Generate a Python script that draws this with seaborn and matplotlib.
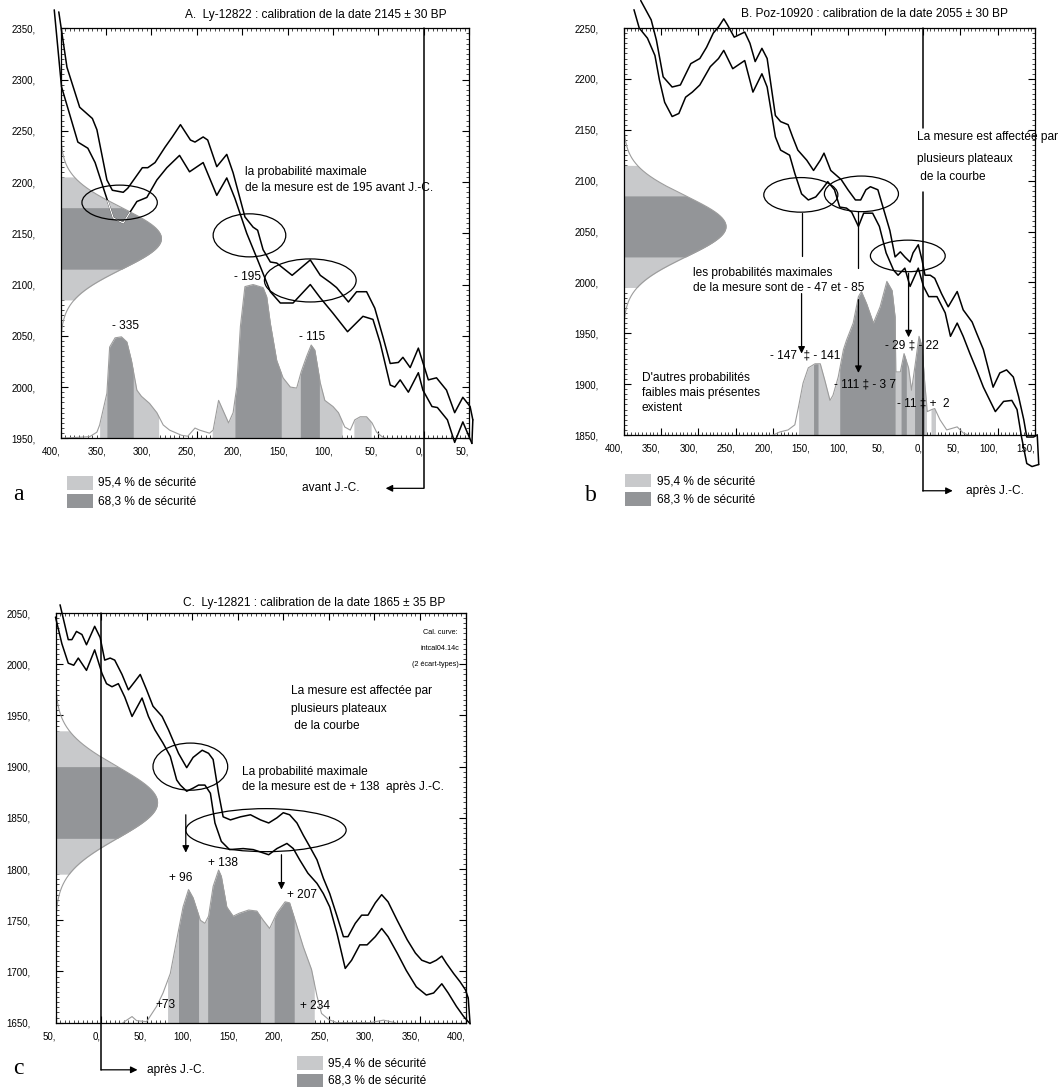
import numpy as np
import matplotlib
matplotlib.use("Agg")
import matplotlib.pyplot as plt
from matplotlib.patches import Ellipse, Rectangle
from matplotlib.ticker import MultipleLocator, FuncFormatter
import seaborn as sns

sns.set_theme(style="white")
FONTS = ['Liberation Sans Narrow', 'Liberation Sans', 'DejaVu Sans']
plt.rcParams['font.family'] = FONTS

W, H = 1060, 1088
LIGHT = '#c8c9cb'
DARK = '#939598'
THIN = '#9c9c9c'
FS = 8.6

# ---------------- A. Ly-12822 : 2145 +/- 30 BP ----------------
a_date, a_sigma = 2145, 30
a_upper_x = [-402, -393, -379, -365, -360, -349, -343, -331, -326, -310, -304, -296, -285, -277, -268,
             -257, -252, -243, -238, -228, -217, -210, -197, -188, -183, -177, -169, -162, -145, -125,
             -114, -103, -96, -83, -74, -63, -54, -45, -37, -28, -23, -15, -6, 5, 14, 25, 34, 43, 51, 54]
a_upper_y = [2366, 2312, 2273, 2262, 2251, 2202, 2192, 2190, 2194, 2214, 2214, 2219, 2234, 2244, 2256,
             2241, 2239, 2244, 2241, 2215, 2227, 2209, 2166, 2156, 2153, 2134, 2122, 2121, 2109, 2124,
             2109, 2102, 2097, 2083, 2093, 2093, 2077, 2049, 2023, 2024, 2029, 2019, 2038, 2007, 2009,
             1997, 1975, 1990, 1981, 1968]
a_lower_x = [-407, -399, -381, -370, -362, -351, -342, -331, -324, -316, -305, -294, -283, -269, -258,
             -243, -228, -217, -208, -195, -189, -183, -169, -158, -144, -125, -114, -100, -84, -67,
             -56, -48, -37, -32, -26, -17, -6, -1, 9, 15, 26, 34, 43, 53]
a_lower_y = [2368, 2293, 2239, 2233, 2219, 2189, 2165, 2160, 2170, 2181, 2185, 2202, 2214, 2226, 2210,
             2219, 2187, 2204, 2184, 2150, 2137, 2124, 2093, 2082, 2082, 2100, 2087, 2072, 2054, 2069,
             2066, 2043, 2002, 2000, 2007, 1995, 2014, 1997, 1981, 1980, 1968, 1946, 1966, 1945]
a_prob_x = [-400, -368, -360, -357, -349, -346, -340, -333, -327, -322, -316, -311, -302, -294, -287,
            -280, -267, -260, -252, -247, -236, -232, -226, -223, -215, -210, -206, -202, -197, -188,
            -177, -173, -169, -162, -155, -147, -140, -135, -129, -124, -120, -114, -109, -100, -94,
            -87, -81, -76, -70, -63, -57, -52, -46, -42]
a_prob_h = [0, 1.6, 6, 13, 44, 89, 98, 99, 94, 76, 47, 41, 34, 25, 13,
            8, 3, 2, 10, 8, 5, 8, 37, 31, 15, 25, 50, 109, 148, 150,
            147, 138, 112, 76, 59, 50, 49, 65, 80, 91, 86, 54, 37, 31, 25,
            11, 8, 18, 21, 21, 15, 6, 1.6, 0]
a_band95 = [(-357, -292), (-233, -90), (-77, -58)]
a_band68 = [(-349, -320), (-208, -157), (-136, -115)]

# ---------------- B. Poz-10920 : 2055 +/- 30 BP ----------------
b_date, b_sigma = 2055, 30
b_upper_x = [-377, -363, -356, -347, -335, -324, -310, -298, -289, -280, -273, -266, -261, -252, -238,
             -231, -224, -215, -208, -197, -190, -180, -174, -167, -155, -146, -137, -132, -123, -109,
             -100, -90, -83, -76, -70, -60, -50, -44, -37, -30, -24, -17, -13, -6, -1, 3, 10, 16, 25, 34,
             46, 54, 66, 72, 81, 94, 103, 112, 121, 128, 135, 139, 148, 153]
b_upper_y = [2277, 2258, 2238, 2202, 2192, 2194, 2215, 2220, 2231, 2245, 2251, 2259, 2253, 2241, 2246,
             2235, 2217, 2230, 2220, 2164, 2158, 2155, 2143, 2130, 2120, 2110, 2120, 2127, 2110, 2101,
             2091, 2081, 2081, 2091, 2094, 2091, 2066, 2051, 2025, 2030, 2025, 2020, 2029, 2037, 2022,
             2007, 2007, 2004, 1989, 1976, 1991, 1973, 1961, 1950, 1934, 1897, 1911, 1914, 1907, 1888,
             1865, 1848, 1848, 1850]
b_lower_x = [-386, -379, -368, -358, -352, -345, -335, -326, -317, -308, -298, -284, -273, -266, -254,
             -238, -227, -215, -208, -197, -190, -178, -171, -162, -153, -143, -134, -127, -118, -111,
             -102, -95, -86, -79, -67, -58, -49, -39, -33, -24, -17, -6, 1, 8, 19, 30, 37, 46, 54, 63,
             72, 81, 97, 108, 119, 126, 132, 139, 146, 155]
b_lower_y = [2268, 2250, 2240, 2223, 2199, 2177, 2163, 2166, 2182, 2187, 2194, 2212, 2220, 2228, 2210,
             2218, 2187, 2205, 2192, 2143, 2130, 2125, 2107, 2087, 2081, 2084, 2092, 2099, 2091, 2074,
             2073, 2069, 2055, 2068, 2068, 2055, 2029, 2012, 2007, 2014, 1996, 2014, 1996, 1986, 1986,
             1970, 1947, 1960, 1947, 1930, 1914, 1897, 1873, 1883, 1884, 1875, 1848, 1822, 1819, 1821]
b_prob_x = [-200, -191, -180, -171, -166, -160, -153, -144, -137, -131, -124, -120, -113, -106, -102,
            -93, -86, -82, -75, -66, -57, -48, -41, -37, -36, -30, -25, -19, -15, -10,
            -5, -1, 2, 6, 12, 16, 23, 32, 46, 54, 61]
b_prob_h = [0, 3, 5, 10, 28, 51, 66, 70, 70, 54, 34, 39, 57, 84, 93,
            110, 136, 141, 129, 110, 126, 151, 142, 116, 62, 62, 80, 66, 44, 70,
            97, 87, 57, 23, 25, 26, 15, 5, 8, 2, 0]
b_band95 = [(-166, 5), (11, 17)]
b_band68 = [(-146, -140), (-111, -37), (-29, -22), (-11, 2)]

# ---------------- C. Ly-12821 : 1865 +/- 35 BP ----------------
c_date, c_sigma = 1865, 35
c_upper_x = [-45, -36, -32, -27, -21, -16, -7, -1, 4, 10, 15, 23, 30, 37, 43, 50, 57, 67, 74, 85,
             94, 101, 111, 118, 123, 129, 134, 142, 153, 164, 175, 184, 193, 200, 207, 215, 222, 229,
             237, 244, 251, 259, 266, 271, 279, 286, 293, 301, 308, 315, 325, 336, 345, 352, 361, 368,
             374, 379, 387, 394, 400, 403]
c_upper_y = [2058, 2024, 2024, 2032, 2029, 2019, 2037, 2026, 2004, 2006, 2004, 1990, 1975, 1983, 1990,
             1975, 1959, 1949, 1936, 1913, 1899, 1909, 1916, 1913, 1907, 1874, 1851, 1848, 1851, 1853,
             1848, 1845, 1850, 1855, 1853, 1845, 1833, 1822, 1809, 1791, 1776, 1754, 1734, 1734, 1747,
             1755, 1755, 1767, 1775, 1768, 1750, 1731, 1718, 1711, 1708, 1711, 1715, 1708, 1698, 1690,
             1682, 1674]
c_lower_x = [-50, -43, -36, -30, -25, -16, -7, 1, 6, 12, 19, 26, 34, 45, 52, 59, 68, 76, 83, 87,
             94, 101, 107, 114, 120, 125, 132, 141, 156, 167, 184, 193, 204, 211, 218, 227, 237, 244,
             251, 259, 268, 275, 284, 292, 301, 308, 315, 325, 335, 346, 357, 365, 374, 381, 390, 398, 405]
c_lower_y = [2046, 2020, 2001, 1999, 2006, 1994, 2014, 1991, 1981, 1978, 1981, 1968, 1949, 1967, 1949,
             1936, 1923, 1910, 1887, 1882, 1876, 1879, 1882, 1882, 1874, 1845, 1827, 1819, 1820, 1819,
             1814, 1820, 1825, 1820, 1809, 1796, 1786, 1776, 1763, 1737, 1703, 1711, 1726, 1726, 1734,
             1742, 1734, 1718, 1701, 1685, 1677, 1679, 1688, 1679, 1666, 1656, 1649]
c_prob_x = [24, 34, 39, 50, 61, 68, 76, 85, 90, 96, 101, 109, 114, 118, 123, 129, 132, 138, 145, 152,
            162, 171, 178, 185, 193, 202, 207, 213, 222, 231, 237, 242, 250, 259, 295, 310, 323]
c_prob_h = [0, 6, 2, 1, 16, 29, 48, 90, 113, 130, 122, 100, 97, 104, 133, 149, 143, 113, 104, 107,
            110, 109, 100, 92, 107, 118, 117, 100, 74, 52, 26, 9, 3, 0, 0, 2.5, 0]
c_band95 = [(73, 234)]
c_band68 = [(85, 107), (117, 175), (190, 212)]

# annotation shapes (data units): ellipses (x, y, w, h), arrows (x, y_from, y_to, head)
a_ellipses = [(-335, 2180, 83, 34), (-192, 2148, 80, 42), (-125, 2104, 101, 42)]
b_ellipses = [(-163, 2086, 99, 34), (-82, 2087, 99, 35), (-20, 2026, 100, 31)]
c_ellipses = [(98, 1900, 82, 46), (181, 1838, 176, 42)]
b_arrows = [(-162, 2068, 2026, False), (-162, 1989, 1930, True), (-86, 2070, 2014, False),
            (-86, 1983, 1911, True), (-19, 2009, 1946, True)]
c_arrows = [(93, 1853, 1816, True), (198, 1814, 1780, True)]

fig = plt.figure(figsize=(W / 100, H / 100), dpi=100)
fig.patch.set_facecolor('white')


def axes_px(left, top, right, bottom):
    return fig.add_axes([left / W, 1 - bottom / H, (right - left) / W, (bottom - top) / H])


def ftxt(px, py, s, size=FS, ha='left', va='center', **kw):
    fig.text(px / W, 1 - py / H, s, fontsize=size, ha=ha, va=va, color='black', **kw)


def legend_px(x, y_light, y_dark, tx):
    for yy, col, lab in ((y_light, LIGHT, "95,4 % de sécurité"), (y_dark, DARK, "68,3 % de sécurité")):
        fig.add_artist(Rectangle((x / W, 1 - (yy + 13.5) / H), 26 / W, 13.5 / H,
                                 transform=fig.transFigure, fc=col, ec='none'))
        ftxt(tx, yy + 7, lab)


def draw_panel(ax, xlim, ylim, up_x, up_y, lo_x, lo_y, p_x, p_h, b95, b68, date, sigma, amp):
    x0, y0 = xlim[0], ylim[0]
    px = np.asarray(p_x, float)
    ph = np.asarray(p_h, float)
    # calibrated probability (bottom)
    for bands, col in ((b95, LIGHT), (b68, DARK)):
        for lo, hi in bands:
            inside = (px > lo) & (px < hi)
            xs = np.concatenate([[lo], px[inside], [hi]])
            ax.fill_between(xs, y0, y0 + np.interp(xs, px, ph), color=col, lw=0, zorder=1)
    sns.lineplot(x=px, y=y0 + ph, ax=ax, color=THIN, lw=0.8, sort=False, estimator=None, zorder=2)
    # measured date on the radiocarbon axis
    clip = None
    for k, col in ((2, LIGHT), (1, DARK)):
        yy = np.linspace(date - k * sigma, date + k * sigma, 200)
        gx = x0 + amp * np.exp(-0.5 * ((yy - date) / sigma) ** 2)
        poly = ax.fill_betweenx(yy, x0, gx, color=col, lw=0, zorder=1)
        if k == 2:
            clip = poly.get_paths()[0]
    yy = np.linspace(date - 3.1 * sigma, date + 3.1 * sigma, 300)
    gx = x0 + amp * np.exp(-0.5 * ((yy - date) / sigma) ** 2)
    sns.lineplot(x=gx, y=yy, ax=ax, color=THIN, lw=0.8, sort=False, estimator=None, zorder=2)
    # calibration curve envelope
    for cx, cy in ((up_x, up_y), (lo_x, lo_y), ([up_x[-1], lo_x[-1]], [up_y[-1], lo_y[-1]])):
        sns.lineplot(x=cx, y=cy, ax=ax, color='black', lw=1.1, sort=False, estimator=None, zorder=3)
        ax.lines[-1].set_clip_on(False)
        sns.lineplot(x=cx, y=cy, ax=ax, color='white', lw=0.9, sort=False, estimator=None, zorder=3.1)
        ax.lines[-1].set_clip_path(clip, ax.transData)

    ax.set_xlim(xlim)
    ax.set_ylim(ylim)
    ax.set_facecolor('white')
    fmt = FuncFormatter(lambda v, p: f"{abs(int(round(v)))},")
    for axis in (ax.xaxis, ax.yaxis):
        axis.set_major_locator(MultipleLocator(50))
        axis.set_minor_locator(MultipleLocator(5))
        axis.set_major_formatter(fmt)
    ax.tick_params(which='both', direction='in', bottom=True, left=True, top=True, right=True,
                   color='black', labelcolor='black')
    ax.tick_params(which='major', length=5, width=0.8, labelsize=7)
    ax.tick_params(which='minor', length=2, width=0.5)
    ax.tick_params(axis='y', pad=18)
    ax.tick_params(axis='x', pad=6)
    plt.setp(ax.get_xticklabels(), ha='right')
    for s in ax.spines.values():
        s.set_color('black')
        s.set_linewidth(0.9)
        s.set_zorder(5)


def ellipses(ax, items):
    for cx, cy, w, h in items:
        ax.add_patch(Ellipse((cx, cy), w, h, fill=False, ec='black', lw=0.9, zorder=4, clip_on=False))


def arrows(ax, items):
    for x, y1, y2, head in items:
        if head:
            ax.annotate('', xy=(x, y2), xytext=(x, y1),
                        arrowprops=dict(arrowstyle='-|>', color='black', lw=0.9,
                                        mutation_scale=10, shrinkA=0, shrinkB=0))
        else:
            ax.plot([x, x], [y1, y2], color='black', lw=0.9)


def era_line(ax, segments, drop, tip):
    tr = ax.get_xaxis_transform()
    for f1, f2 in segments:
        ax.plot([0, 0], [f1, f2], transform=tr, color='black', lw=1.1, clip_on=False, zorder=4)
    ax.annotate('', xy=(tip, drop), xytext=(0, drop), xycoords=tr, textcoords=tr,
                arrowprops=dict(arrowstyle='-|>', color='black', lw=0.9,
                                mutation_scale=10, shrinkA=0, shrinkB=0), annotation_clip=False)


# ---------- panel A ----------
axA = axes_px(60.6, 28.3, 469.2, 438.3)
draw_panel(axA, (-400, 50), (1950, 2350), a_upper_x, a_upper_y, a_lower_x, a_lower_y,
           a_prob_x, a_prob_h, a_band95, a_band68, a_date, a_sigma, 111)
ellipses(axA, a_ellipses)
era_line(axA, [(1.0, -0.122)], -0.122, -42)
ftxt(185, 15, "A.  Ly-12822 : calibration de la date 2145 ± 30 BP")
ftxt(245, 172, "la probabilité maximale")
ftxt(245, 188, "de la mesure est de 195 avant J.-C.")
ftxt(125, 326, "- 335", ha='center')
ftxt(247, 277, "- 195", ha='center')
ftxt(312, 337, "- 115", ha='center')
ftxt(331, 488, "avant J.-C.", ha='center')
legend_px(66.7, 476, 494, 98.3)
ftxt(18, 494, "a", size=17, ha='center', family=['Liberation Serif', 'DejaVu Serif'])

# ---------- panel B ----------
axB = axes_px(623.5, 28, 1035, 435)
draw_panel(axB, (-400, 150), (1850, 2250), b_upper_x, b_upper_y, b_lower_x, b_lower_y,
           b_prob_x, b_prob_h, b_band95, b_band68, b_date, b_sigma, 137)
ellipses(axB, b_ellipses)
arrows(axB, b_arrows)
era_line(axB, [(1.0, 0.755), (0.5975, -0.137)], -0.137, 40)
ftxt(741, 14, "B. Poz-10920 : calibration de la date 2055 ± 30 BP")
ftxt(917, 137, "La mesure est affectée par")
ftxt(917, 159, "plusieurs plateaux")
ftxt(917, 177, " de la courbe")
ftxt(693, 273, "les probabilités maximales")
ftxt(693, 288, "de la mesure sont de - 47 et - 85")
ftxt(770, 355, "- 147  ‡ - 141")
ftxt(834, 384, "- 111 ‡ - 3 7")
ftxt(885, 345, "- 29 ‡ - 22")
ftxt(897, 403, "- 11 ‡ +  2")
ftxt(642, 378, "D'autres probabilités")
ftxt(642, 393, "faibles mais présentes")
ftxt(642, 408, "existent")
ftxt(966, 491, "après J.-C.")
legend_px(625, 474, 492, 657)
ftxt(591, 496, "b", size=17, ha='center', family=['Liberation Serif', 'DejaVu Serif'])

# ---------- panel C ----------
axC = axes_px(55.5, 613, 465.5, 1022.7)
draw_panel(axC, (-50, 400), (1650, 2050), c_upper_x, c_upper_y, c_lower_x, c_lower_y,
           c_prob_x, c_prob_h, c_band95, c_band68, c_date, c_sigma, 112)
ellipses(axC, c_ellipses)
arrows(axC, c_arrows)
era_line(axC, [(1.0, -0.115)], -0.115, 40)
ftxt(183, 603, "C.  Ly-12821 : calibration de la date 1865 ± 35 BP")
ftxt(458, 632, "Cal. curve:", size=5.2, ha='right')
ftxt(459, 648, "intcal04.14c", size=5.2, ha='right')
ftxt(459, 664, "(2 écart-types)", size=5.2, ha='right')
ftxt(291, 691, "La mesure est affectée par")
ftxt(291, 709, "plusieurs plateaux")
ftxt(291, 726, " de la courbe")
ftxt(242, 772, "La probabilité maximale")
ftxt(242, 787, "de la mesure est de + 138  après J.-C.")
ftxt(181, 878, "+ 96", ha='center')
ftxt(223, 863, "+ 138", ha='center')
ftxt(302, 895, "+ 207", ha='center')
ftxt(166, 1005, "+73", ha='center')
ftxt(315, 1006, "+ 234", ha='center')
ftxt(147, 1070, "après J.-C.")
legend_px(296.7, 1056, 1073.5, 328.3)
ftxt(18, 1068, "c", size=17, ha='center', family=['Liberation Serif', 'DejaVu Serif'])

fig.savefig("out.png", dpi=100, facecolor='white')
